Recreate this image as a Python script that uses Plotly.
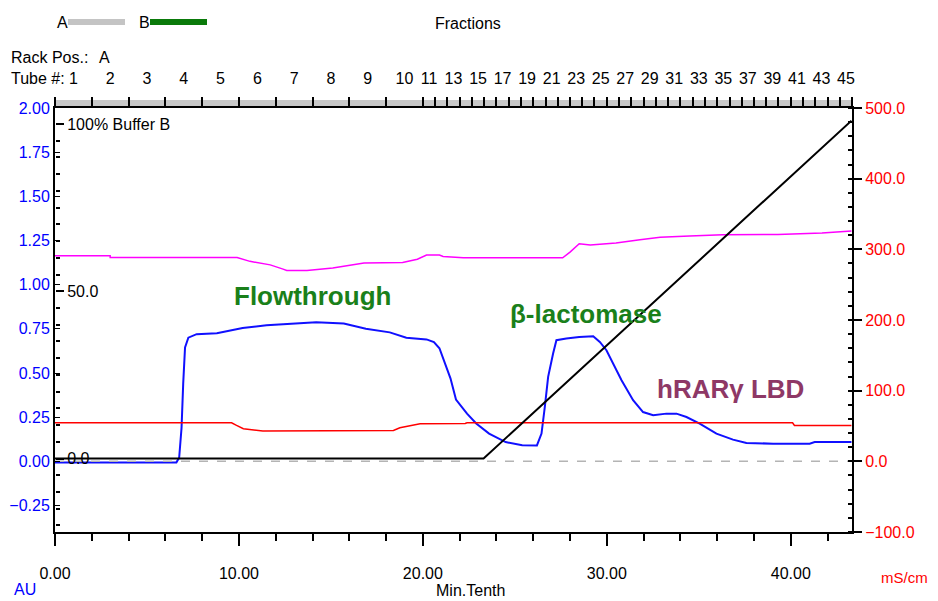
import plotly.graph_objects as go

# ---------------- data ----------------
# UV absorbance (AU, left axis)
t_uv = [0, 6.6, 6.75, 6.88, 6.97, 7.07, 7.25, 7.7, 8.8, 10.2,
        11.5, 12.8, 14.2, 15.7, 16.9, 18.2, 19.1, 20.2, 20.6, 20.9,
        21.2, 21.5, 21.8, 22.4, 22.9, 23.6, 24.5, 25.4, 26.2, 26.45,
        26.63, 26.81, 27.08, 27.26, 27.8, 28.5, 29.26, 29.62, 29.98, 30.34,
        30.8, 31.43, 31.97, 32.52, 33.24, 33.79, 34.33, 35.05, 35.96, 36.86,
        37.59, 39.04, 41.03, 41.3, 43.3]
uv = [-0.006, -0.006, 0.02, 0.19, 0.44, 0.645, 0.70, 0.72, 0.725, 0.755,
      0.77, 0.78, 0.787, 0.78, 0.75, 0.73, 0.70, 0.69, 0.675, 0.64,
      0.56, 0.47, 0.35, 0.27, 0.214, 0.157, 0.109, 0.091, 0.09, 0.157,
      0.308, 0.478, 0.61, 0.686, 0.695, 0.704, 0.708, 0.676, 0.629, 0.553,
      0.459, 0.346, 0.279, 0.261, 0.27, 0.27, 0.251, 0.214, 0.157, 0.123,
      0.104, 0.10, 0.10, 0.109, 0.109]

# magenta trace (right axis)
t_mag = [0, 3.0, 3.0, 9.9, 10.6, 11.7, 12.4, 12.6, 13.7, 15.1,
         16.8, 18.9, 19.7, 20.2, 20.9, 21.1, 22.2, 27.6, 28.0, 28.5,
         29.1, 30.5, 31.8, 32.9, 34.5, 36.3, 39.3, 41.7, 43.3]
mag = [291, 291, 288.5, 288.5, 283, 278, 272, 270, 270, 273.5,
       280.5, 281.5, 286, 292, 292, 290, 288, 288, 296, 308,
       306, 309, 313.5, 317, 319, 320.5, 321, 323, 326]

# conductivity (mS/cm, right axis, red)
t_cond = [0, 9.6, 9.87, 10.24, 11.3, 18.4, 18.75, 19.3, 19.85, 22.3, 22.4, 40.1, 40.2, 43.3]
cond = [54.6, 54.6, 50.8, 46.2, 42.8, 43.8, 47.6, 50.8, 53.2, 53.5, 54.6, 54.6, 50.8, 50.8]

# gradient % Buffer B (black)
t_grad = [0, 23.3, 43.3]
grad = [0, 0, 101]

# fractions
fraction_bounds = [0, 2, 4, 6, 8, 10, 12, 14, 16, 18, 20,
                   20.67, 21.33, 22, 22.67, 23.33, 24, 24.67, 25.33, 26, 26.67,
                   27.33, 28, 28.67, 29.33, 30, 30.67, 31.33, 32, 32.67, 33.33,
                   34, 34.67, 35.33, 36, 36.67, 37.33, 38, 38.67, 39.33, 40,
                   40.67, 41.33, 42, 42.67, 43.33]
tube_numbers = list(range(1, 46))
tube_shown = ["1", "2", "3", "4", "5", "6", "7", "8", "9", "10", "11", "13", "15", "17",
              "19", "21", "23", "25", "27", "29", "31", "33", "35", "37", "39", "41", "43", "45"]

au_ticks = [-0.25, 0, 0.25, 0.5, 0.75, 1.0, 1.25, 1.5, 1.75, 2.0]
ms_ticks = [-100, 0, 100, 200, 300, 400, 500]
pb_ticks = [0, 50, 100]
pb_text = ["0.0", "50.0", "100% Buffer B"]
x_ticks = [0, 10, 20, 30, 40]

# ---------------- figure ----------------
# the page body has an 8px default margin: size the figure so it fills 938x601
OFF = 8
W, H = 938 - OFF, 601 - OFF
L, R, T, B = 55 - OFF, 86, 108 - OFF, 69
PW, PH = W - L - R, H - T - B


def xp(px):
    return (px - OFF - L) / PW


def yp(py):
    return (H - B - (py - OFF)) / PH


FONT = "Liberation Sans, Arial, sans-serif"
XMAX = fraction_bounds[-1]

fig = go.Figure()
fig.add_trace(go.Scatter(x=t_mag, y=mag, mode="lines", xaxis="x", yaxis="y2",
                         line=dict(color="#ff00ff", width=1.5), name="mag", hoverinfo="skip"))
fig.add_trace(go.Scatter(x=t_cond, y=cond, mode="lines", xaxis="x", yaxis="y2",
                         line=dict(color="#ff0000", width=1.5), name="cond", hoverinfo="skip"))
fig.add_trace(go.Scatter(x=t_uv, y=uv, mode="lines", xaxis="x", yaxis="y",
                         line=dict(color="#1010ff", width=2), name="UV"))
fig.add_trace(go.Scatter(x=[0, XMAX], y=[0, 0], mode="lines", xaxis="x", yaxis="y2",
                         line=dict(color="#b4b4b4", width=1.5, dash="dash"), name="base",
                         hoverinfo="skip"))
fig.add_trace(go.Scatter(x=t_grad, y=grad, mode="lines", xaxis="x", yaxis="y3",
                         line=dict(color="#000000", width=2), name="%B"))
# empty traces so the fraction axes are drawn
fig.add_trace(go.Scatter(x=[None], y=[None], xaxis="x2", yaxis="y", mode="lines",
                         hoverinfo="skip", showlegend=False))
fig.add_trace(go.Scatter(x=[None], y=[None], xaxis="x3", yaxis="y", mode="lines",
                         hoverinfo="skip", showlegend=False))

centers = [(fraction_bounds[i] + fraction_bounds[i + 1]) / 2 for i in range(45)]
shown_centers = [centers[n - 1] for n in tube_numbers if str(n) in tube_shown]

fig.update_layout(
    width=W, height=H, margin=dict(l=L, r=R, t=T, b=B),
    paper_bgcolor="white", plot_bgcolor="white", showlegend=False,
    font=dict(family=FONT, size=16, color="black"),
    xaxis=dict(range=[0, XMAX], tickvals=x_ticks, tickformat=".2f",
               ticks="outside", ticklen=12, tickwidth=1.5, tickcolor="black",
               ticklabelstandoff=14, automargin=False,
               minor=dict(dtick=2, ticks="outside", ticklen=7, tickwidth=1.5, tickcolor="black"),
               showline=True, linecolor="black", linewidth=2, mirror=True,
               showgrid=False, zeroline=False, tickfont=dict(size=16)),
    xaxis2=dict(range=[0, XMAX], overlaying="x", side="top", anchor="y",
                tickvals=fraction_bounds, showticklabels=False, automargin=False,
                ticks="outside", ticklen=10, tickwidth=1.5, tickcolor="black",
                showline=False, showgrid=False, zeroline=False),
    xaxis3=dict(range=[0, XMAX], overlaying="x", side="top", anchor="y",
                tickvals=shown_centers, ticktext=tube_shown, automargin=False,
                ticks="", ticklabelstandoff=20, tickfont=dict(size=16),
                showline=False, showgrid=False, zeroline=False),
    yaxis=dict(range=[-0.4, 2.0], tickvals=au_ticks, tickformat=".2f",
               tickfont=dict(color="#0000ff", size=16), automargin=False,
               ticks="inside", ticklen=5, tickcolor="black",
               showline=True, linecolor="black", linewidth=2,
               showgrid=False, zeroline=False),
    yaxis2=dict(range=[-100, 500], overlaying="y", side="right", anchor="x",
                tickvals=ms_ticks, tickformat=".1f", automargin=False,
                tickfont=dict(color="#ff0000", size=16),
                ticks="outside", ticklen=8, tickwidth=1.5, tickcolor="black",
                minor=dict(dtick=20, ticks="inside", ticklen=4, tickcolor="black"),
                showline=True, linecolor="black", linewidth=2,
                showgrid=False, zeroline=False),
    yaxis3=dict(range=[-21.97, 104.78], overlaying="y", side="right", anchor="free",
                position=0, tickvals=pb_ticks, ticktext=pb_text, automargin=False,
                tickfont=dict(color="black", size=16),
                ticks="outside", ticklen=8, tickwidth=1.5, tickcolor="black",
                minor=dict(dtick=5, ticks="outside", ticklen=4, tickcolor="black"),
                showline=False, showgrid=False, zeroline=False),
)

shapes = [
    # grey fraction band above plot
    dict(type="rect", xref="x", yref="paper", x0=0, x1=XMAX, y0=1.0, y1=yp(100),
         fillcolor="#c8c8c8", line=dict(width=0), layer="below"),
    # header legend bars
    dict(type="rect", xref="paper", yref="paper", x0=xp(68), x1=xp(125), y0=yp(25), y1=yp(19),
         fillcolor="#c4c4c4", line=dict(width=0)),
    dict(type="rect", xref="paper", yref="paper", x0=xp(150), x1=xp(207), y0=yp(25), y1=yp(19),
         fillcolor="#0a7a0a", line=dict(width=0)),
]
fig.update_layout(shapes=shapes)


def ann(text, px, py, color="black", size=16, xanchor="center"):
    fig.add_annotation(text=text, xref="paper", yref="paper",
                       x=xp(px), y=yp(py), showarrow=False, xanchor=xanchor, yanchor="middle",
                       font=dict(color=color, size=size, family=FONT))


ann("A", 62, 22)
ann("B", 144, 22)
ann("Fractions", 468, 23)
ann("Rack Pos.:", 9, 58, xanchor="left")
ann("A", 104, 58)
ann("Tube #:", 9, 78, xanchor="left")
ann("AU", 25, 589, color="#0000ff")
ann("Min.Tenth", 470, 590)
ann("mS/cm", 904, 577, color="#ff0000", size=15)

# peak labels (data coords)
for text, tx, ty, col in [("Flowthrough", 14.0, 0.935, "#1a801a"),
                          ("β-lactomase", 28.86, 0.833, "#1a801a"),
                          ("hRARγ LBD", 36.74, 0.408, "#8e3866")]:
    fig.add_annotation(text=f"<b>{text}</b>", x=tx, y=ty, xref="x", yref="y",
                       showarrow=False, font=dict(color=col, size=26, family=FONT))

fig.write_html("out.html")
